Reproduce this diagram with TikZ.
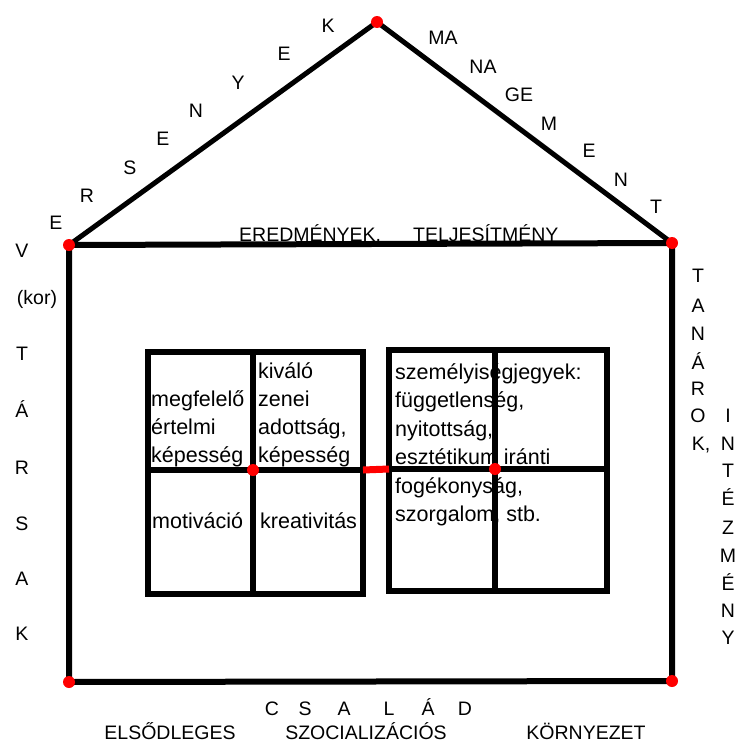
\documentclass[tikz,border=0pt]{standalone}
\usepackage{fontspec}
\setmainfont{Liberation Sans}
\begin{document}
\begin{tikzpicture}[x=1pt,y=-1pt,
  roofline/.style={line width=5pt},
  wallline/.style={line width=6pt},
  winline/.style={line width=6pt},
  reddot/.style={fill=red, draw=none},
  redbar/.style={red, line width=7pt},
  lbl/.style={font=\fontsize{19.5}{24}\selectfont, inner sep=0pt, text height=14pt, text depth=0pt},
  lblb/.style={font=\fontsize{19.5}{24}\selectfont, inner sep=0pt, anchor=base west},
  wtxt/.style={font=\fontsize{21.5}{28}\selectfont, inner sep=0pt, anchor=base west}]
\useasboundingbox (0,0) rectangle (739,744);
% house corners
\coordinate (apex) at (377,22);
\coordinate (el) at (69,245);
\coordinate (er) at (672,243);
\coordinate (bl) at (69,682);
\coordinate (br) at (672,681);
% window corners
\coordinate (w1nw) at (148,352);
\coordinate (w1se) at (363,594);
\coordinate (w1t) at (253,352);
\coordinate (w1b) at (253,594);
\coordinate (w1l) at (148,470);
\coordinate (w1r) at (363,470);
\coordinate (w1c) at (253,470);
\coordinate (w2nw) at (389,350);
\coordinate (w2se) at (607,591);
\coordinate (w2t) at (495,350);
\coordinate (w2b) at (495,591);
\coordinate (w2l) at (389,469);
\coordinate (w2r) at (607,469);
\coordinate (w2c) at (495,469);

% roof text left
\node[lbl] (r1) at (56,222) {E};
\node[lbl] (r2) at (87,195) {R};
\node[lbl] (r3) at (130,167) {S};
\node[lbl] (r4) at (163,138) {E};
\node[lbl] (r5) at (196,110) {N};
\node[lbl] (r6) at (238,82) {Y};
\node[lbl] (r7) at (284,53) {E};
\node[lbl] (r8) at (328,25) {K};
% roof text right
\node[lbl] (m1) at (443,37) {MA};
\node[lbl] (m2) at (483,66) {NA};
\node[lbl] (m3) at (519,94) {GE};
\node[lbl] (m4) at (549,123) {M};
\node[lbl] (m5) at (589,150) {E};
\node[lbl] (m6) at (621,179) {N};
\node[lbl] (m7) at (656,206) {T};
% floor text
\node[lblb] (ered) at (239,241) {EREDMÉNYEK,};
\node[lblb] (telj) at (413,241) {TELJESÍTMÉNY};
% left column
\node[lbl] (l1) at (22,250) {V};
\node[lbl] (l2) at (37,297) {(kor)};
\node[lbl] (l3) at (22,353) {T};
\node[lbl] (l4) at (22,410) {Á};
\node[lbl] (l5) at (22,467) {R};
\node[lbl] (l6) at (22,523) {S};
\node[lbl] (l7) at (22,578) {A};
\node[lbl] (l8) at (22,633) {K};
% right column 1
\node[lbl] (t1) at (698,275) {T};
\node[lbl] (t2) at (698,305) {A};
\node[lbl] (t3) at (698,333) {N};
\node[lbl] (t4) at (698,362) {Á};
\node[lbl] (t5) at (698,388) {R};
\node[lbl] (t6) at (698,415) {O};
\node[lbl] (t7) at (701,443) {K,};
% right column 2
\node[lbl] (i1) at (728,415) {I};
\node[lbl] (i2) at (728,443) {N};
\node[lbl] (i3) at (728,470) {T};
\node[lbl] (i4) at (728,498) {É};
\node[lbl] (i5) at (728,527) {Z};
\node[lbl] (i6) at (728,555) {M};
\node[lbl] (i7) at (728,583) {É};
\node[lbl] (i8) at (728,610) {N};
\node[lbl] (i9) at (728,637) {Y};
% bottom
\node[lbl] (c1) at (272,708) {C};
\node[lbl] (c2) at (305,708) {S};
\node[lbl] (c3) at (344,708) {A};
\node[lbl] (c4) at (389,708) {L};
\node[lbl] (c5) at (428,708) {Á};
\node[lbl] (c6) at (465,708) {D};
\node[lbl] (b1) at (170,732) {ELSŐDLEGES};
\node[lbl] (b2) at (366,732) {SZOCIALIZÁCIÓS};
\node[lbl] (b3) at (586,732) {KÖRNYEZET};
% window 1 text
\node[wtxt] (wa1) at (151,406) {megfelelő};
\node[wtxt] (wa2) at (151,434) {értelmi};
\node[wtxt] (wa3) at (151,462) {képesség};
\node[wtxt] (wb1) at (258,378) {kiváló};
\node[wtxt] (wb2) at (258,406) {zenei};
\node[wtxt] (wb3) at (258,434) {adottság,};
\node[wtxt] (wb4) at (258,462) {képesség};
\node[wtxt] (wc) at (152,528) {motiváció};
\node[wtxt] (wd) at (260,528) {kreativitás};
% window 2 text
\node[wtxt] (v1) at (395,379) {személyiségjegyek:};
\node[wtxt] (v2) at (395,407.5) {függetlenség,};
\node[wtxt] (v3) at (395,436) {nyitottság,};
\node[wtxt] (v4) at (395,464.5) {esztétikum iránti};
\node[wtxt] (v5) at (395,493) {fogékonyság,};
\node[wtxt] (v6) at (395,521.5) {szorgalom, stb.};

% house
\draw[roofline] (el) -- (apex) -- (er);
\draw[wallline] (el) -- (er) -- (br) -- (bl) -- cycle;
% windows
\draw[winline] (w1nw) rectangle (w1se);
\draw[winline] (w1t) -- (w1b);
\draw[winline] (w1l) -- (w1r);
\draw[winline] (w2nw) rectangle (w2se);
\draw[winline] (w2t) -- (w2b);
\draw[winline] (w2l) -- (w2r);
\draw[redbar] (w1r) -- (w2l);
% dots
\foreach \p in {apex,el,er,bl,br,w1c,w2c}
  \fill[reddot] (\p) circle (6pt);
\end{tikzpicture}
\end{document}
